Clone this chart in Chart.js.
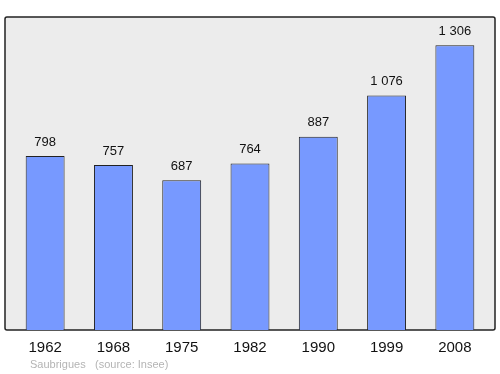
<!DOCTYPE html>
<html>
<head>
<meta charset="utf-8">
<script src="https://cdn.jsdelivr.net/npm/chart.js@4"></script>
<style>
  html, body { margin: 0; padding: 0; background: #fff; }
  #wrap { width: 500px; height: 374px; }
</style>
</head>
<body>
<div id="wrap"><canvas id="popChart"></canvas></div>
<script>
var years = ["1962", "1968", "1975", "1982", "1990", "1999", "2008"];
var population = [798, 757, 687, 764, 887, 1076, 1306];
var commune = "Saubrigues";
var source = "(source: Insee)";

function formatPop(n) {
  return String(n).replace(/\B(?=(\d{3})+(?!\d))/g, " ");
}

// grey frame behind the bars, labels over them, footer text
var framePlugin = {
  id: 'frame',
  beforeDatasetsDraw: function(chart) {
    var a = chart.chartArea;
    var ctx = chart.ctx;
    ctx.save();
    ctx.fillStyle = "#ececec";
    ctx.strokeStyle = "#222";
    ctx.lineWidth = 1.5;
    ctx.beginPath();
    ctx.roundRect(a.left - 6, a.top, a.right - a.left + 12, a.bottom - a.top, 2);
    ctx.fill();
    ctx.stroke();
    ctx.restore();
  },
  afterDatasetsDraw: function(chart) {
    var ctx = chart.ctx;
    var meta = chart.getDatasetMeta(0);
    ctx.save();
    ctx.font = "13px 'Liberation Sans', Arial, sans-serif";
    ctx.fillStyle = "#111";
    ctx.textAlign = "center";
    ctx.textBaseline = "middle";
    meta.data.forEach(function(bar, i) {
      ctx.fillText(formatPop(population[i]), bar.x, bar.y - 14);
    });
    ctx.font = "11px 'Liberation Sans', Arial, sans-serif";
    ctx.fillStyle = "#b4b4b4";
    ctx.textAlign = "left";
    ctx.fillText(commune, 30, 365);
    ctx.fillText(source, 95, 365);
    ctx.restore();
  }
};

var ctx = document.getElementById("popChart");
var myBarChart = new Chart(ctx, {
  type: 'bar',
  data: {
    labels: years,
    datasets: [{
      data: population,
      backgroundColor: "#7799ff",
      borderColor: "#222",
      borderWidth: 1,
      barPercentage: 0.57,
      categoryPercentage: 1
    }]
  },
  options: {
    responsive: true,
    maintainAspectRatio: false,
    animation: false,
    layout: { padding: { left: 11, right: 11, top: 17, bottom: 16 } },
    plugins: { legend: { display: false }, tooltip: { enabled: false } },
    scales: {
      x: {
        grid: { display: false },
        border: { display: false },
        ticks: {
          color: "#111",
          padding: 1,
          font: { size: 15, family: "'Liberation Sans', Arial, sans-serif" }
        }
      },
      y: {
        display: false,
        min: 0,
        max: 1436
      }
    }
  },
  plugins: [framePlugin]
});
</script>
</body>
</html>
